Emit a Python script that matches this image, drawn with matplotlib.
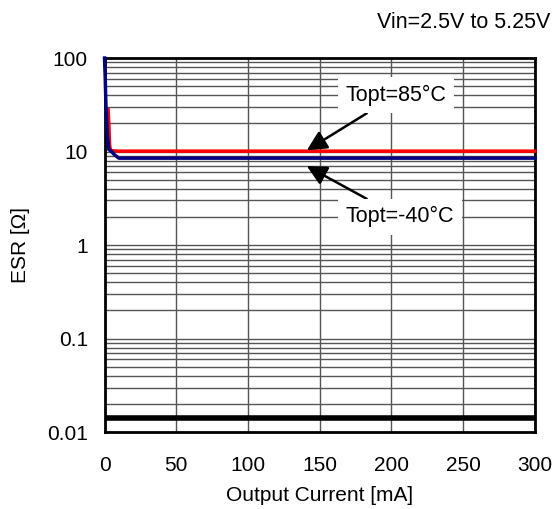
import matplotlib.pyplot as plt
from matplotlib.ticker import LogLocator, FixedLocator, NullFormatter

plt.rcParams['font.family'] = ['Liberation Sans', 'DejaVu Sans']

# ESR vs output current
i_85 = [2.5, 3, 3.5, 4, 5, 10, 50, 100, 150, 200, 250, 300]
esr_85 = [28, 20, 12, 10.5, 10.2, 10.1, 10.1, 10.1, 10.1, 10.1, 10.1, 10.1]
i_m40 = [0, 0.5, 1, 2, 3, 5, 7, 10, 50, 100, 150, 200, 250, 300]
esr_m40 = [100, 60, 30, 15, 10.5, 10, 9.2, 8.5, 8.5, 8.5, 8.5, 8.5, 8.5, 8.5]
esr_limit_x = [0, 300]
esr_limit = [0.0143, 0.0143]

fig = plt.figure(figsize=(5.56, 5.09), dpi=100)
ax = fig.add_axes([0.188, 0.151, 0.774, 0.735])

ax.set_yscale('log')
ax.set_xlim(0, 300)
ax.set_ylim(0.01, 100)

ax.xaxis.set_major_locator(FixedLocator([0, 50, 100, 150, 200, 250, 300]))
ax.yaxis.set_minor_locator(LogLocator(base=10, subs=range(2, 10), numticks=20))
ax.yaxis.set_minor_formatter(NullFormatter())
ax.set_yticks([0.01, 0.1, 1, 10, 100])
ax.set_yticklabels(['0.01', '0.1', '1', '10', '100'])

ax.grid(True, which='major', color='#555555', linewidth=1.0)
ax.grid(True, which='minor', axis='y', color='#555555', linewidth=1.0)
ax.tick_params(which='both', length=0, labelsize=15)
ax.tick_params(axis='x', pad=17)
ax.tick_params(axis='y', pad=12)
for s in ax.spines.values():
    s.set_linewidth(2)
    s.set_color('black')

ax.plot(esr_limit_x, esr_limit, color='black', linewidth=4)
ax.plot(i_85, esr_85, color='#ff0000', linewidth=2.5, zorder=3, clip_on=False)
ax.plot(i_m40, esr_m40, color='#000080', linewidth=2.5, zorder=3, clip_on=False)

box = dict(boxstyle='square,pad=0.35', facecolor='white', edgecolor='none')
arrow = dict(arrowstyle='-|>', color='black', lw=1.8, mutation_scale=30, shrinkA=0, shrinkB=0)
ax.annotate('Topt=85°C', xy=(141, 10.3), xytext=(168, 40), fontsize=15.5,
            va='center', ha='left', bbox=box, arrowprops=arrow)
ax.annotate('Topt=-40°C', xy=(141, 7.0), xytext=(168, 2.0), fontsize=15.5,
            va='center', ha='left', bbox=box, arrowprops=arrow)

ax.set_xlabel('Output Current [mA]', fontsize=15, labelpad=8)
ax.set_ylabel('ESR [Ω]', fontsize=15, labelpad=12)
fig.text(0.99, 0.955, 'Vin=2.5V to 5.25V', fontsize=15.5, ha='right', va='center')

fig.savefig('out.png', dpi=100)
